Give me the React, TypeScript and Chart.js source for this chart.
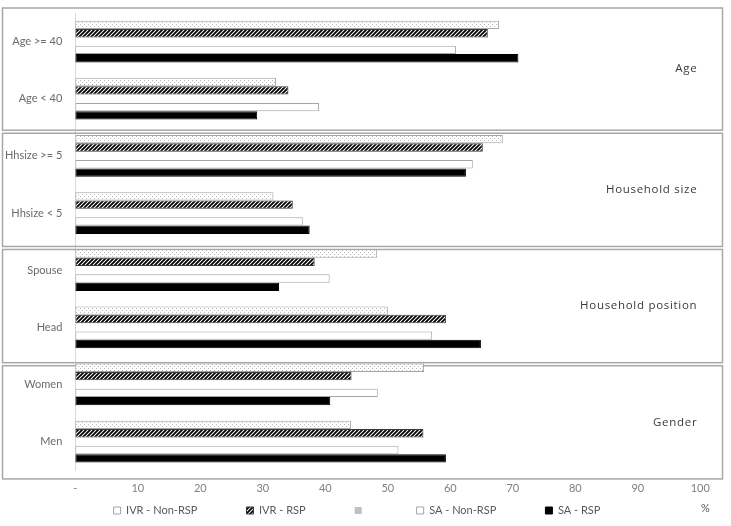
import React, { useEffect, useRef } from "react";
import { Chart, registerables } from "chart.js";

Chart.register(...registerables);

// ---- data ----
const categories = ["Age >= 40", "Age < 40", "Hhsize >= 5", "Hhsize < 5", "Spouse", "Head", "Women", "Men"];
const groupLabels = ["Age", "Household size", "Household position", "Gender"];
const seriesLabels = ["IVR - Non-RSP", "IVR - RSP", "", "SA - Non-RSP", "SA - RSP"];
const ivrNonRsp = [67.8, 32.1, 68.4, 31.7, 48.3, 50.0, 55.8, 44.1];
const ivrRsp = [66.0, 34.1, 65.2, 34.8, 38.3, 59.3, 44.2, 55.7];
const blankSeries: (number | null)[] = [null, null, null, null, null, null, null, null];
const saNonRsp = [60.9, 39.0, 63.6, 36.4, 40.7, 57.1, 48.4, 51.7];
const saRsp = [70.9, 29.1, 62.5, 37.5, 32.6, 64.9, 40.8, 59.3];
const xTickLabels = ["-", "10", "20", "30", "40", "50", "60", "70", "80", "90", "100"];
const unitLabel = "%";

const FONT = "Lato";
const AREA_LEFT = 75.3;
const LEGEND_GAP = 40;
const LEGEND_TAIL = 63;

function makePattern(kind: "dots" | "hatch"): CanvasPattern | string {
  const c = document.createElement("canvas");
  c.width = 4;
  c.height = 4;
  const g = c.getContext("2d");
  if (!g) return "#fff";
  g.fillStyle = "#ffffff";
  g.fillRect(0, 0, 4, 4);
  if (kind === "dots") {
    g.fillStyle = "#b8b8b8";
    g.fillRect(0, 0, 1, 1);
    g.fillRect(2, 2, 1, 1);
  } else {
    g.strokeStyle = "#000000";
    g.lineWidth = 1.8;
    g.beginPath();
    g.moveTo(-1, 5);
    g.lineTo(5, -1);
    g.moveTo(-3, 3);
    g.lineTo(3, -3);
    g.moveTo(1, 7);
    g.lineTo(7, 1);
    g.stroke();
  }
  return g.createPattern(c, "repeat") as CanvasPattern;
}

const panelPlugin = {
  id: "panels",
  beforeDatasetsDraw(chart: any) {
    const { ctx, chartArea } = chart;
    const u = (chartArea.bottom - chartArea.top) / categories.length;
    ctx.save();
    ctx.strokeStyle = "#a8a8a8";
    ctx.lineWidth = 1.5;
    ctx.fillStyle = "#3a3a3a";
    ctx.font = "11.5px 'Open Sans'";
    try {
      (ctx as any).letterSpacing = "0.7px";
    } catch (e) {
      /* ignore */
    }
    ctx.textAlign = "right";
    ctx.textBaseline = "middle";
    groupLabels.forEach((label, i) => {
      const top = i === 0 ? chartArea.top - 5 : chartArea.top + u * (2.034 * i + 0.07);
      const bottom = chartArea.top + u * (2.034 * (i + 1) + 0.017);
      ctx.strokeRect(2.5, top, chart.width - 11, bottom - top);
      ctx.fillText(label, chartArea.right - 3, (top + bottom) / 2);
    });
    ctx.restore();
  },
  afterDraw(chart: any) {
    const { ctx } = chart;
    const xs = chart.scales.x;
    ctx.save();
    ctx.fillStyle = "#595959";
    ctx.font = `11px ${FONT}`;
    ctx.textAlign = "center";
    ctx.textBaseline = "middle";
    const legend = chart.legend;
    const yPos = legend ? legend.top + 10 + 6.6 - 3 : 506;
    ctx.fillText(unitLabel, xs.getPixelForValue(100) + 5, yPos);
    ctx.restore();
  },
};

function padTo(ctx: CanvasRenderingContext2D, width: number): string {
  const unit = ctx.measureText("\u00A0").width || 3;
  return "\u00A0".repeat(Math.max(0, Math.round(width / unit)));
}

export default function App() {
  const ref = useRef<HTMLCanvasElement | null>(null);

  useEffect(() => {
    document.body.style.margin = "0";
    const canvas = ref.current;
    if (!canvas) return;
    const dots = makePattern("dots");
    const hatch = makePattern("hatch");

    const chart = new Chart(canvas, {
      type: "bar",
      data: {
        labels: categories,
        datasets: [
          { label: seriesLabels[0], data: ivrNonRsp, backgroundColor: dots as any, borderColor: "#a5a5a5", borderWidth: 1, borderSkipped: false },
          { label: seriesLabels[1], data: ivrRsp, backgroundColor: hatch as any, borderColor: "#3a3a3a", borderWidth: 1, borderSkipped: false },
          { label: seriesLabels[2], data: blankSeries, backgroundColor: "#c0c0c0", borderColor: "#c0c0c0", borderWidth: 0 },
          { label: seriesLabels[3], data: saNonRsp, backgroundColor: "#ffffff", borderColor: "#a5a5a5", borderWidth: 1, borderSkipped: false },
          { label: seriesLabels[4], data: saRsp, backgroundColor: "#000000", borderColor: "#000000", borderWidth: 1, borderSkipped: false },
        ],
      },
      options: {
        indexAxis: "y",
        responsive: false,
        animation: false,
        devicePixelRatio: 1,
        datasets: { bar: { categoryPercentage: 0.731, barPercentage: 1 } },
        layout: { padding: { top: 13, right: 30.7, bottom: 0, left: 0 } },
        scales: {
          x: {
            min: 0,
            max: 100,
            ticks: {
              stepSize: 10,
              color: "#7f7f7f",
              font: { family: FONT, size: 11 },
              padding: 11.5,
              callback: (_v: any, i: number) => xTickLabels[i],
            },
            grid: { display: false, drawTicks: false },
            border: { display: false },
            afterFit: (s: any) => {
              s.height = 24.8;
            },
          },
          y: {
            ticks: { color: "#6a6a6a", font: { family: FONT, size: 11 }, padding: 13 },
            grid: { display: false, drawTicks: false },
            border: { display: true, color: "#d9d9d9", width: 1 },
            afterFit: (s: any) => {
              s.width = AREA_LEFT;
              s.paddingTop = 0;
              s.paddingBottom = 0;
            },
          },
        },
        plugins: {
          tooltip: { enabled: false },
          legend: {
            position: "bottom",
            fullSize: false,
            labels: {
              boxWidth: 7,
              boxHeight: 7,
              padding: 10,
              color: "#595959",
              font: { family: FONT, size: 11 },
              generateLabels: (ch: any) => {
                const items = Chart.defaults.plugins.legend.labels.generateLabels(ch);
                const n = items.length;
                const c = ch.ctx as CanvasRenderingContext2D;
                c.save();
                c.font = `11px ${FONT}`;
                const gapPad = padTo(c, LEGEND_GAP);
                const tailPad = padTo(c, LEGEND_TAIL);
                c.restore();
                return items.map((it: any, i: number) => {
                  const pad = i < n - 1 ? gapPad : tailPad;
                  const res = { ...it, text: it.text + pad, lineWidth: i === 2 ? 0 : 1 };
                  if (i === 0) res.fillStyle = "#ffffff";
                  return res;
                });
              },
            },
          },
        },
      },
      plugins: [panelPlugin],
    } as any);

    return () => chart.destroy();
  }, []);

  return (
    <div style={{ width: 731, height: 526 }}>
      <canvas ref={ref} width={731} height={526} style={{ display: "block" }} />
    </div>
  );
}
